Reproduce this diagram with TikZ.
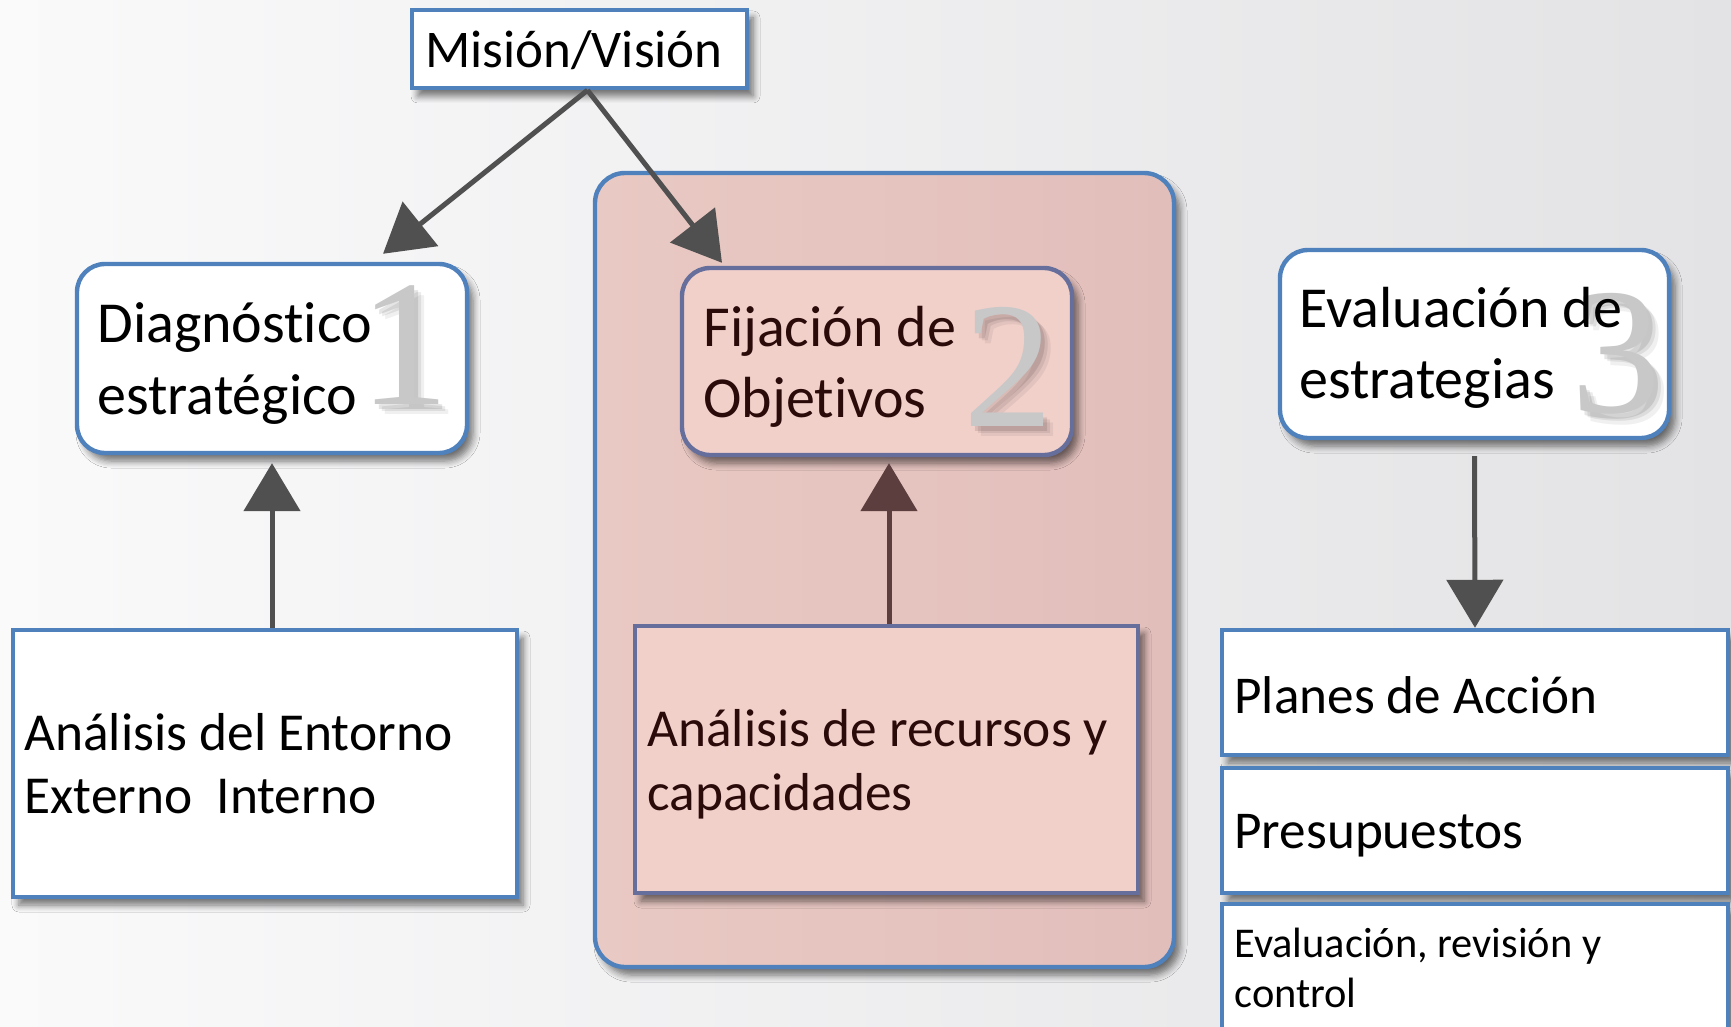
\documentclass[tikz,border=0pt]{standalone}
\usepackage{fontspec}
\setmainfont[Ligatures=NoCommon]{Carlito}
\newfontfamily\numfont{Liberation Serif}
\usetikzlibrary{arrows.meta,shadows.blur}
\definecolor{bord}{HTML}{4F81BD}
\definecolor{pbord}{HTML}{666E9C}
\definecolor{pinkA}{HTML}{E9C9C3}
\definecolor{pinkB}{HTML}{E2BEBB}
\definecolor{pinkin}{HTML}{F2D0CA}
\definecolor{brtext}{HTML}{2B0A0A}
\definecolor{arrgray}{HTML}{505050}
\definecolor{arrbrown}{HTML}{5C3E3E}
\definecolor{bgA}{HTML}{FAFAFB}
\definecolor{bgB}{HTML}{E3E3E5}
\definecolor{numgray}{HTML}{C8C8C8}
\begin{document}
\begin{tikzpicture}[x=0.5pt,y=-0.5pt,
  sh/.style={blur shadow={shadow xshift=3pt,shadow yshift=-4pt,shadow opacity=55,shadow blur steps=6,shadow blur radius=3.5pt}},
  box/.style={draw=bord,line width=2.2pt,fill=white,inner sep=0pt,sh},
  rbox/.style={box,rounded corners=14pt},
  pbox/.style={draw=pbord,line width=2.2pt,fill=pinkin,inner sep=0pt,sh},
  contbox/.style={draw=bord,line width=2.2pt,rounded corners=15pt,left color=pinkA,right color=pinkB,inner sep=0pt,sh},
  txt/.style={anchor=base west,inner sep=0pt,font=\fontsize{#1pt}{#1pt}\selectfont},
  num/.style={anchor=base,inner sep=0pt,font=\numfont\fontsize{90pt}{90pt}\selectfont,text=numgray},
  numsh/.style={anchor=base,inner sep=0pt,font=\numfont\fontsize{90pt}{90pt}\selectfont,text=black,opacity=#1},
  arr/.style={line width=2.5pt,draw=arrgray,-{Triangle[length=24pt,width=28pt]}},
  arrb/.style={arr,draw=arrbrown}
]
\useasboundingbox (0,0) rectangle (1731,1027);
\begin{pgfinterruptboundingbox}
\begin{scope}
\clip (0,0) rectangle (1731,1027);
\shade[left color=bgA,right color=bgB] (0,0) rectangle (1731,1027);

% boxes
\node[box,minimum width=167.5pt,minimum height=39pt] (mis) at (579.5,49) {};
\node[rbox,minimum width=195pt,minimum height=94.5pt] (diag) at (272,358.5) {};
\node[contbox,minimum width=289.5pt,minimum height=397pt] (cont) at (884.5,570) {};
\node[pbox,rounded corners=14pt,minimum width=195pt,minimum height=93.5pt] (fij) at (877,361.5) {};
\node[rbox,minimum width=194.5pt,minimum height=94pt] (evs) at (1474.5,344) {};
\node[box,minimum width=252pt,minimum height=133.5pt] (ent) at (265,763.5) {};
\node[pbox,minimum width=251.5pt,minimum height=133.5pt] (rec) at (886.5,759.5) {};
\node[box,minimum width=253pt,minimum height=62.5pt] (pla) at (1475,692.5) {};
\node[box,minimum width=253pt,minimum height=62.5pt] (pre) at (1475,830.5) {};
\node[box,minimum width=253pt,minimum height=68pt] (evr) at (1475,972) {};

% numerals with soft shadows
\node[numsh=0.06] (n1a) at (414,415) {1};
\node[numsh=0.08] (n1b) at (411,412) {1};
\node[numsh=0.10] (n1c) at (408,409) {1};
\node[num] (n1) at (404,405) {1};
\node[numsh=0.06] (n2a) at (1018,437) {2};
\node[numsh=0.08] (n2b) at (1015,434) {2};
\node[numsh=0.10] (n2c) at (1012,431) {2};
\node[num] (n2) at (1008,427) {2};
\node[numsh=0.06] (n3a) at (1626,423) {3};
\node[numsh=0.08] (n3b) at (1623,420) {3};
\node[numsh=0.10] (n3c) at (1620,417) {3};
\node[num] (n3) at (1616,413) {3};

% texts
\node[txt=26.5] (tmis) at (425,68) {Misión/Visión};
\node[txt=29] (td1) at (97,343) {Diagnóstico};
\node[txt=29] (td2) at (97,415) {estratégico};
\node[txt=29,text=brtext] (tf1) at (703,347) {Fijación de};
\node[txt=29,text=brtext] (tf2) at (703,417) {Objetivos};
\node[txt=29] (te1) at (1299,328) {Evaluación de};
\node[txt=29] (te2) at (1299,399) {estrategias};
\node[txt=26.7] (tn1) at (24,750) {Análisis del Entorno};
\node[txt=26.7] (tn2) at (24,813) {Externo\ \ Interno};
\node[txt=26.7,text=brtext] (tr1) at (647,746) {Análisis de recursos y};
\node[txt=26.7,text=brtext] (tr2) at (647,810) {capacidades};
\node[txt=26.6] (tp) at (1234,713) {Planes de Acción};
\node[txt=26.6] (tq) at (1234,848) {Presupuestos};
\node[txt=21.2] (tv1) at (1234,957) {Evaluación, revisión y};
\node[txt=21.2] (tv2) at (1234,1007) {control};

% arrows
\draw[arr] ([xshift=4pt]mis.south) -- ([xshift=55.5pt,yshift=4pt]diag.north);
\draw[arr] ([xshift=4pt]mis.south) -- ([xshift=-77.5pt,yshift=1.5pt]fij.north);
\draw[arr] ([xshift=3.5pt]ent.north) -- ([yshift=-4pt]diag.south);
\draw[arrb] ([xshift=1.25pt]rec.north) -- ([xshift=6pt,yshift=-3pt]fij.south);
\draw[arr] ([yshift=-8pt]evs.south) -- (pla.north);
\end{scope}
\end{pgfinterruptboundingbox}
\end{tikzpicture}
\end{document}
